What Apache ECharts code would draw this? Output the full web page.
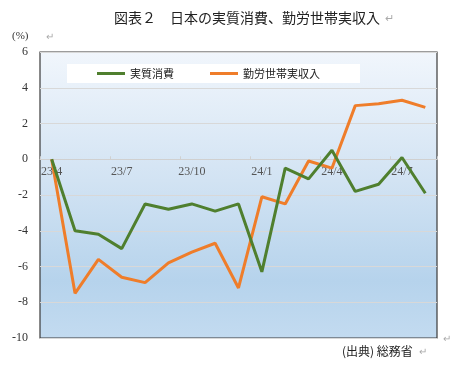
<!DOCTYPE html>
<html><head><meta charset="utf-8">
<script src="https://cdn.jsdelivr.net/npm/echarts@6/dist/echarts.min.js"></script>
<style>html,body{margin:0;padding:0;background:#fff}#c{width:456px;height:372px}</style>
</head><body><div id="c"></div>
<script>
const categories = ['23/4','23/5','23/6','23/7','23/8','23/9','23/10','23/11','23/12','24/1','24/2','24/3','24/4','24/5','24/6','24/7','24/8'];
const consumption = [0,-4.0,-4.2,-5.0,-2.5,-2.8,-2.5,-2.9,-2.5,-6.3,-0.5,-1.1,0.5,-1.8,-1.4,0.1,-1.9];
const income = [0,-7.5,-5.6,-6.6,-6.9,-5.8,-5.2,-4.7,-7.2,-2.1,-2.5,-0.1,-0.5,3.0,3.1,3.3,2.9];
const seriesNames = ['実質消費','勤労世帯実収入'];
const yTicks = {min:-10, max:6, interval:2};

const gridTop = 52, gridBottom = 34, H = 372;
const plotH = H - gridTop - gridBottom;
const zeroOffset = -plotH * (0 - yTicks.min) / (yTicks.max - yTicks.min);

const chart = echarts.init(document.getElementById('c'), null, {renderer:'canvas'});
const serif = '"Liberation Serif","DejaVu Serif",serif';
const jp = '"Noto Sans CJK JP","Noto Sans",sans-serif';
chart.setOption({
  animation:false,
  backgroundColor:'#fff',
  grid:{left:40,right:19,top:gridTop,bottom:gridBottom,show:true,borderColor:'#3a3a3a',borderWidth:1.2,
    backgroundColor:new echarts.graphic.LinearGradient(0,0,0,1,[
      {offset:0,color:'#f1f6fc'},{offset:0.45,color:'#d2e3f3'},{offset:0.8,color:'#b6d3ec'},{offset:1,color:'#c3dbf0'}])},
  legend:{left:67,top:64,backgroundColor:'#ffffff',padding:[4,40,4,30],itemGap:36,itemWidth:28,itemHeight:3,icon:'rect',
    textStyle:{fontFamily:jp,fontSize:11,color:'#222'},data:seriesNames},
  xAxis:{type:'category',data:categories,boundaryGap:true,offset:zeroOffset,
    axisLine:{onZero:false,lineStyle:{color:'#d0d0d0',width:1}},
    axisTick:{show:true,interval:2,inside:true,length:3,lineStyle:{color:'#d0d0d0'}},
    axisLabel:{interval:2,color:'#555',fontFamily:serif,fontSize:12,margin:7},
    splitLine:{show:false}},
  yAxis:{type:'value',min:yTicks.min,max:yTicks.max,interval:yTicks.interval,
    axisLine:{show:false},axisTick:{show:false},
    axisLabel:{color:'#333',fontFamily:serif,fontSize:12,margin:12},
    splitLine:{lineStyle:{color:'#d8d8d8',width:1}}},
  series:[
    {name:seriesNames[0],type:'line',data:consumption,showSymbol:false,symbol:'none',z:3,
      lineStyle:{color:'#4f7f2e',width:3},itemStyle:{color:'#4f7f2e'}},
    {name:seriesNames[1],type:'line',data:income,showSymbol:false,symbol:'none',z:2,
      lineStyle:{color:'#ef7d2a',width:3},itemStyle:{color:'#ef7d2a'}}
  ],
  graphic:[
    {type:'text',left:114,top:11,style:{text:'図表２　日本の実質消費、勤労世帯実収入',font:'14px '+jp,fill:'#222'}},
    {type:'text',left:385,top:12,style:{text:'↵',font:'11px '+jp,fill:'#aaa'}},
    {type:'text',left:12,top:31,style:{text:'(%)',font:'11px '+serif,fill:'#333'}},
    {type:'text',left:46,top:31,style:{text:'↵',font:'10px '+jp,fill:'#aaa'}},
    {type:'text',left:342,top:345,style:{text:'(出典) 総務省',font:'12px '+jp,fill:'#222'}},
    {type:'text',left:419,top:346,style:{text:'↵',font:'10px '+jp,fill:'#aaa'}},
    {type:'text',left:443,top:333,style:{text:'↵',font:'10px '+jp,fill:'#aaa'}}
  ]
});
</script></body></html>
